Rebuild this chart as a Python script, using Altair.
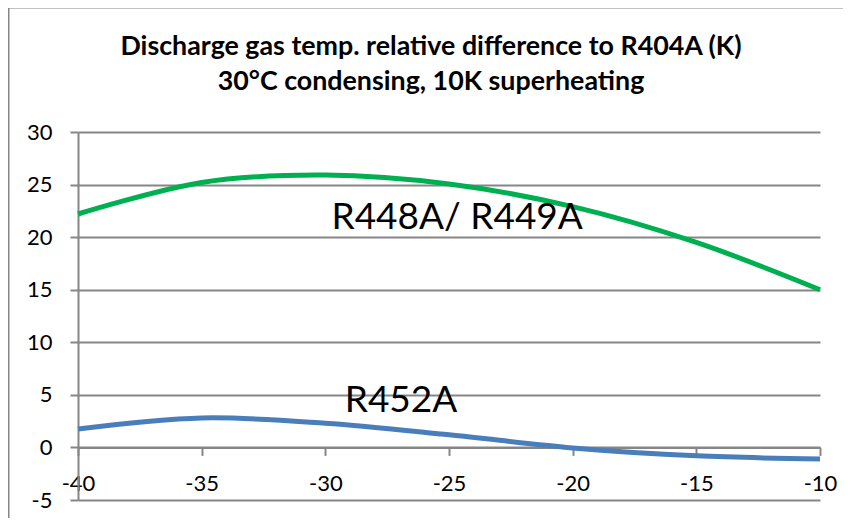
import altair as alt
import pandas as pd

x_vals = [-40, -35, -30, -25, -20, -15, -10]
r448 = [22.2, 25.2, 25.9, 25.05, 22.9, 19.5, 15.0]
r452 = [1.75, 2.8, 2.3, 1.2, -0.05, -0.8, -1.1]
series_names = ["R448A/ R449A", "R452A"]
series_colors = ["#00B050", "#4A7EBB"]
label_x = [-24.67, -26.94]
label_y = [21.8, 4.4]
title_lines = ["Discharge gas temp. relative difference to R404A (K)",
               "30°C condensing, 10K superheating"]

rows = []
for i, xv in enumerate(x_vals):
    rows.append({"x": xv, "y": r448[i], "s": series_names[0]})
    rows.append({"x": xv, "y": r452[i], "s": series_names[1]})
df = pd.DataFrame(rows)
lab = pd.DataFrame({"x": label_x, "y": label_y, "s": series_names})

FONT = "Lato"
GREY = "#868686"

xs = alt.Scale(domain=[-40, -10], nice=False, zero=False)
ys = alt.Scale(domain=[-5, 30], nice=False, zero=False)

lines = alt.Chart(df).mark_line(strokeWidth=5, interpolate="catmull-rom").encode(
    x=alt.X("x:Q", scale=xs, axis=alt.Axis(
        values=x_vals, title=None, grid=False, offset=-52.6,
        labelExpr="toString(datum.value)",
        domainColor=GREY, domainWidth=2, tickColor=GREY, tickWidth=2, tickSize=8,
        labelFont=FONT, labelFontSize=22, labelColor="black", labelPadding=18,
        labelFlush=False, labelBaseline="top")),
    y=alt.Y("y:Q", scale=ys, axis=alt.Axis(
        values=[-5, 0, 5, 10, 15, 20, 25, 30], title=None, grid=True,
        labelExpr="toString(datum.value)",
        gridColor=GREY, gridWidth=2, domainColor=GREY, domainWidth=2,
        tickColor=GREY, tickWidth=2, tickSize=8,
        labelFont=FONT, labelFontSize=22, labelColor="black", labelPadding=18)),
    color=alt.Color("s:N", scale=alt.Scale(domain=series_names, range=series_colors), legend=None),
)

labels = alt.Chart(lab).mark_text(font=FONT, fontSize=37, color="black",
                                  align="center", baseline="middle").encode(
    x=alt.X("x:Q", scale=xs), y=alt.Y("y:Q", scale=ys), text="s:N")

border = alt.Chart(pd.DataFrame({"a": [0]})).mark_rect(
    fill=None, stroke=GREY, strokeWidth=2).encode(
    x=alt.value(-69.5), x2=alt.value(900), y=alt.value(-124.5), y2=alt.value(700))

t1 = alt.Chart(pd.DataFrame({"a": [0]})).mark_text(
    font=FONT, fontSize=26.8, fontWeight="bold", color="black",
    align="center", baseline="middle").encode(
    x=alt.value(353), y=alt.value(-85), text=alt.value(title_lines[0]))
t2 = alt.Chart(pd.DataFrame({"a": [0]})).mark_text(
    font=FONT, fontSize=26.8, fontWeight="bold", color="black",
    align="center", baseline="middle").encode(
    x=alt.value(353), y=alt.value(-50), text=alt.value(title_lines[1]))

chart = alt.layer(border, lines, labels, t1, t2).properties(
    width=742, height=368,
    autosize=alt.AutoSizeParams(type="none"),
    padding={"left": 70, "top": 124, "right": 23, "bottom": 18},
).configure_view(stroke=None)

chart.save("out.html", embed_options={"renderer": "svg", "actions": False})
